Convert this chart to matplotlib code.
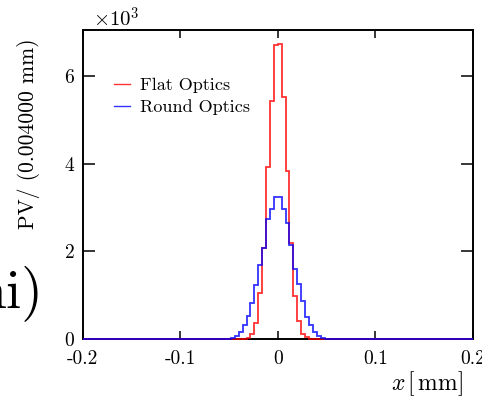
import numpy as np
import matplotlib
matplotlib.use("Agg")
import matplotlib.pyplot as plt
from matplotlib.lines import Line2D

plt.rcParams['font.family'] = 'cmr10'
plt.rcParams['mathtext.fontset'] = 'cm'
plt.rcParams['axes.unicode_minus'] = False

# ---- data -------------------------------------------------------------
x_min, x_max, n_bins = -0.2, 0.2, 100
# central bins from -0.048 to 0.048 (24 bins of 0.004 mm); all other bins empty
core_lo, core_hi = -0.048, 0.048
flat_core = [0, 0, 0, 5, 30, 114, 372, 1043, 2070, 3920, 5440, 6710,
             6730, 5530, 3830, 2184, 975, 400, 120, 35, 5, 0, 0, 0]
round_core = [20, 60, 150, 312, 530, 830, 1240, 1700, 2070, 2750, 2965, 3250,
              3235, 2965, 2640, 2150, 1590, 1250, 868, 510, 310, 165, 60, 20]
labels = ["Flat Optics", "Round Optics"]
xticks = [-0.2, -0.1, 0.0, 0.1, 0.2]
xtick_labels = ["-0.2", "-0.1", "0", "0.1", "0.2"]
yticks = [0, 2000, 4000, 6000]
ytick_labels = ["0", "2", "4", "6"]

edges = np.linspace(x_min, x_max, n_bins + 1)
i0 = int(round((core_lo - x_min) / 0.004))
flat = np.zeros(n_bins); flat[i0:i0 + len(flat_core)] = flat_core
rnd = np.zeros(n_bins); rnd[i0:i0 + len(round_core)] = round_core

# ---- figure -----------------------------------------------------------
W, H = 482, 398
fig = plt.figure(figsize=(W / 100, H / 100), dpi=100)
L, R, T, B = 82.7, 472.7, 29.5, 339.0
ax = fig.add_axes([L / W, 1 - B / H, (R - L) / W, (B - T) / H])

ax.stairs(flat, edges, color='#ff0000', lw=1.3, alpha=0.8, zorder=3,
          baseline=None, clip_on=False, label=labels[0])
ax.stairs(rnd, edges, color='#0000ff', lw=1.3, alpha=0.8, zorder=4,
          baseline=None, clip_on=False, label=labels[1])

ax.set_xlim(x_min, x_max)
ax.set_ylim(0, 1.05 * max(flat.max(), rnd.max()))
ax.set_xticks(xticks)
ax.set_xticklabels(xtick_labels)
ax.set_yticks(yticks)
ax.set_yticklabels(ytick_labels)
ax.tick_params(axis='both', direction='in', top=True, right=True,
               labelsize=14, width=1.1, color='black')
ax.tick_params(axis='x', length=6, pad=8)
ax.tick_params(axis='y', length=8.6, pad=6)
for s in ax.spines.values():
    s.set_linewidth(1.4)

handles = [Line2D([], [], color='#ff0000', lw=1.0, alpha=0.8),
           Line2D([], [], color='#0000ff', lw=1.0, alpha=0.8)]
ax.legend(handles, labels, loc='upper left', bbox_to_anchor=(0.08, 0.845),
          frameon=False, fontsize=13, handlelength=0.9, handletextpad=0.55,
          labelspacing=0.33, borderpad=0, borderaxespad=0)

fig.text(29 / W, 1 - 38 / H, "PV/ (0.004000 mm)", rotation=90,
         ha='center', va='top', fontsize=15.5)
fig.text(463 / W, 1 - 384 / H, r"$x\,[\,\mathrm{mm}]$", ha='right', va='center',
         fontsize=17)
fig.text(93 / W, 1 - 27 / H, r"$\times 10^{3}$", ha='left', va='baseline',
         fontsize=15)
fig.text(43 / W, 1 - 307 / H, "ni)", ha='right', va='baseline', fontsize=40)

fig.savefig("out.png", dpi=100)
